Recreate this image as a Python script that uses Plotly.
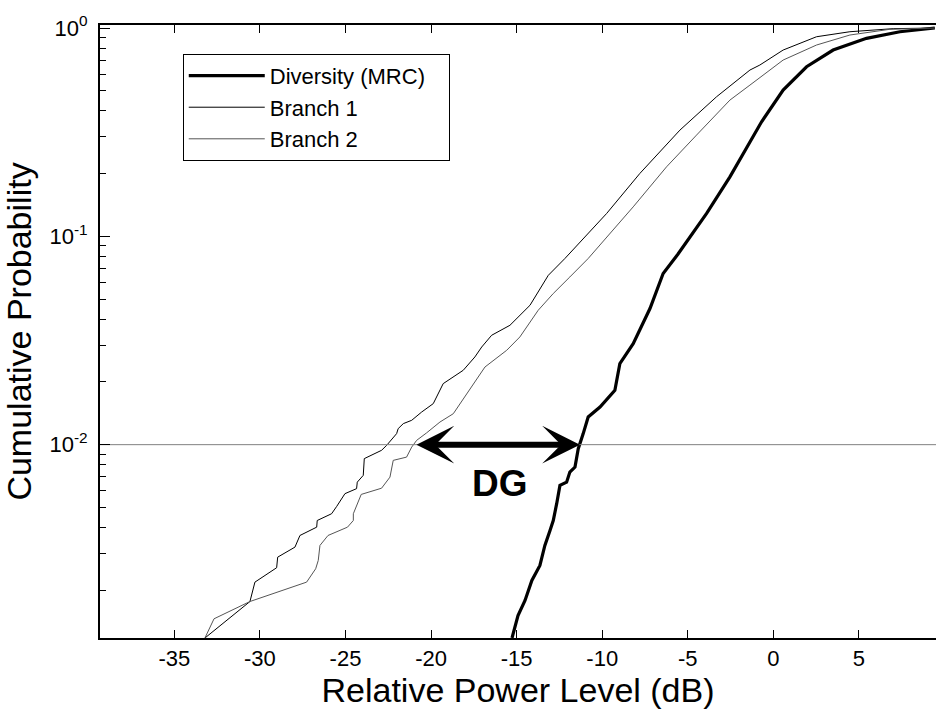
import math
import plotly.graph_objects as go

# ---------------- data ----------------
branch1_db = [-33.21, -30.58, -30.29, -29.02, -28.96, -27.95, -27.66, -26.68, -26.65, -25.81,
              -25.51, -25.03, -24.35, -24.31, -23.96, -23.90, -22.89, -22.59, -22.01, -21.92,
              -21.62, -21.13, -20.55, -19.87, -19.29, -18.12, -17.44, -17.04, -16.46, -15.39,
              -14.22, -13.15, -12.18, -9.74, -7.80, -5.46, -3.32, -1.37, -0.79, 0.57,
              2.52, 4.47, 7.0, 9.43]
branch1_p = [0.00118, 0.001766, 0.002188, 0.002566, 0.002884, 0.003222, 0.003665, 0.004018, 0.004325, 0.00466,
             0.005056, 0.005817, 0.006149, 0.006607, 0.007123, 0.00857, 0.009394, 0.009931, 0.0113, 0.01194,
             0.01262, 0.01309, 0.01434, 0.01574, 0.01963, 0.02275, 0.02636, 0.02943, 0.0335, 0.03741,
             0.04667, 0.06501, 0.07827, 0.1288, 0.2004, 0.3236, 0.4677, 0.6285, 0.6644, 0.784,
             0.9082, 0.9599, 0.993, 1.0]

branch2_db = [-33.21, -32.68, -30.58, -27.27, -26.74, -26.59, -26.49, -26.02, -24.88, -24.54,
              -24.54, -24.08, -22.89, -22.40, -22.21, -21.43, -21.13, -20.84, -20.26, -19.48,
              -18.70, -18.31, -17.79, -16.85, -15.58, -14.81, -13.74, -12.86, -11.89, -10.82,
              -8.19, -6.24, -4.49, -2.54, -1.37, 0.57, 2.52, 4.47, 6.80, 9.43]
branch2_p = [0.00118, 0.001459, 0.001766, 0.002188, 0.002537, 0.00278, 0.003282, 0.003665, 0.004018, 0.004325,
             0.00466, 0.00577, 0.00618, 0.006985, 0.008406, 0.008714, 0.009736, 0.01049, 0.01139, 0.01284,
             0.01408, 0.01574, 0.01823, 0.02359, 0.02838, 0.03289, 0.04417, 0.05315, 0.06383, 0.07827,
             0.1385, 0.2157, 0.3062, 0.4509, 0.5322, 0.7018, 0.8286, 0.9256, 0.986, 1.0]

diversity_db = [-15.27, -14.92, -14.51, -14.11, -13.64, -13.35, -13.05, -12.86, -12.66, -12.47,
                -12.08, -11.89, -11.59, -11.40, -11.11, -10.82, -10.13, -9.26, -8.97, -8.19,
                -7.21, -6.44, -5.58, -3.90, -2.54, -0.69, 0.57, 1.94, 3.49, 5.44,
                7.39, 9.43]
diversity_p = [0.00118, 0.001513, 0.001786, 0.002229, 0.00263, 0.003282, 0.003876, 0.004325, 0.005208, 0.006374,
               0.006607, 0.007387, 0.007806, 0.009569, 0.0113, 0.01358, 0.01516, 0.01823, 0.0245, 0.03055,
               0.04502, 0.06633, 0.08204, 0.1288, 0.193, 0.3548, 0.5037, 0.6518, 0.784, 0.8923,
               0.9599, 1.0]

threshold_p = 0.01
dg_left_db = -20.94
dg_right_db = -11.30
dg_label_db = -15.95
dg_label_p = 0.0065

x_range = [-39.34, 9.5]
y_range_p = [0.00118, 1.034]
x_ticks = [-35, -30, -25, -20, -15, -10, -5, 0, 5]
x_ticktext = ["-35", "-30", "-25", "-20", "-15", "-10", "-5", "0", "5"]
y_ticks = [0.01, 0.1, 1]
y_ticktext = ["10<sup>-2</sup>", "10<sup>-1</sup>", "10<sup>0</sup>"]
y_minor = [k * 10.0 ** e for e in (-3, -2, -1) for k in range(2, 10)]

FONT = "Liberation Sans, Arial, sans-serif"
PAD = "\u00a0\u00a0\u00a0"

fig = go.Figure()
fig.add_trace(go.Scatter(x=diversity_db, y=diversity_p, mode="lines", name="Diversity (MRC)" + PAD,
                         line=dict(color="black", width=3.2)))
fig.add_trace(go.Scatter(x=branch1_db, y=branch1_p, mode="lines", name="Branch 1",
                         line=dict(color="black", width=1)))
fig.add_trace(go.Scatter(x=branch2_db, y=branch2_p, mode="lines", name="Branch 2",
                         line=dict(color="#555555", width=1)))
fig.add_trace(go.Scatter(x=x_range, y=[threshold_p, threshold_p], mode="lines", showlegend=False,
                         line=dict(color="#808080", width=1), hoverinfo="skip"))

# DG double arrow
fig.add_annotation(x=dg_right_db, y=math.log10(threshold_p), ax=dg_left_db, ay=math.log10(threshold_p),
                   xref="x", yref="y", axref="x", ayref="y", text="", showarrow=True,
                   arrowhead=3, startarrowhead=3, arrowside="end+start",
                   arrowwidth=6, arrowsize=1.05, startarrowsize=1.05, arrowcolor="black",
                   standoff=0, startstandoff=0)
fig.add_annotation(x=dg_label_db, y=math.log10(dg_label_p), xref="x", yref="y",
                   text="<b>DG</b>", showarrow=False,
                   font=dict(family=FONT, size=37, color="black"))

fig.update_layout(
    width=936, height=713,
    margin=dict(l=100, r=0, t=25, b=75),
    paper_bgcolor="white", plot_bgcolor="white",
    font=dict(family=FONT, color="black"),
    showlegend=True,
    legend=dict(x=0.099, y=0.953, xanchor="left", yanchor="top",
                bordercolor="black", borderwidth=1, bgcolor="white",
                font=dict(family=FONT, size=22, color="black"),
                itemwidth=76, traceorder="normal"),
)
fig.update_xaxes(range=x_range, tickmode="array", tickvals=x_ticks, ticktext=x_ticktext,
                 ticks="inside", ticklen=8,
                 tickwidth=1, tickcolor="black", showline=True, linecolor="black", linewidth=2,
                 mirror="ticks", showgrid=False, zeroline=False,
                 tickfont=dict(family=FONT, size=22, color="black"),
                 title=dict(text="Relative Power Level (dB)", font=dict(family=FONT, size=34, color="black"),
                            standoff=5))
fig.update_yaxes(type="log", range=[math.log10(y_range_p[0]), math.log10(y_range_p[1])],
                 tickmode="array", tickvals=y_ticks, ticktext=y_ticktext,
                 ticks="inside", ticklen=10, tickwidth=1, tickcolor="black",
                 minor=dict(tickvals=y_minor, ticks="inside", ticklen=6, tickcolor="black"),
                 showline=True, linecolor="black", linewidth=2, mirror=False,
                 showgrid=False, zeroline=False, ticklabelstandoff=6,
                 tickfont=dict(family=FONT, size=22, color="black"),
                 title=dict(text="Cumulative Probability", font=dict(family=FONT, size=34, color="black"),
                            standoff=8))

fig.write_html("out.html")
